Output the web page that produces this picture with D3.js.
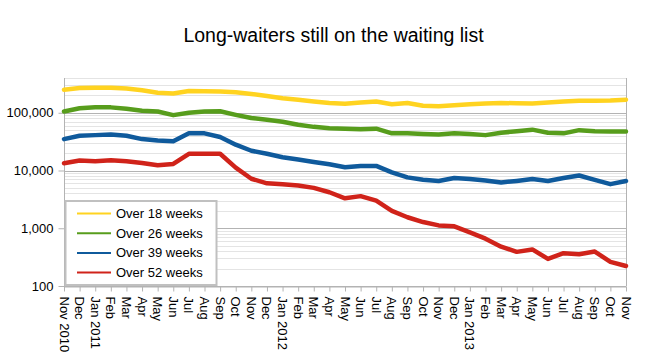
<!DOCTYPE html>
<html>
<head>
<meta charset="utf-8">
<script src="https://cdn.jsdelivr.net/npm/d3@7"></script>
<style>
  body { margin: 0; background: #fff; }
  text { font-family: "Liberation Sans", Arial, sans-serif; fill: #000; }
</style>
</head>
<body>
<svg width="646" height="358"></svg>
<script>
var width = 646,
    height = 358;

var months = ["Nov 2010", "Dec", "Jan 2011", "Feb", "Mar", "Apr", "May", "Jun", "Jul", "Aug", "Sep", "Oct", "Nov", "Dec",
    "Jan 2012", "Feb", "Mar", "Apr", "May", "Jun", "Jul", "Aug", "Sep", "Oct", "Nov", "Dec",
    "Jan 2013", "Feb", "Mar", "Apr", "May", "Jun", "Jul", "Aug", "Sep", "Oct", "Nov"];

var seriesNames = ["Over 18 weeks", "Over 26 weeks", "Over 39 weeks", "Over 52 weeks"];

var over18 = [250000, 268000, 270000, 270000, 262000, 245000, 222000, 216000, 238000, 235000, 233000, 226000, 212000,
    195000, 178000, 168000, 157000, 148000, 143000, 150000, 157000, 140000, 148000, 132000, 130000, 135000, 140000,
    145000, 148000, 146000, 145000, 150000, 157000, 162000, 162000, 163000, 168000];
var over26 = [105000, 120000, 125000, 124000, 117000, 108000, 105000, 91000, 100000, 105000, 106000, 92000, 81000,
    76000, 70000, 62000, 57000, 54000, 53000, 52000, 53000, 44000, 44000, 43000, 42000, 44000, 43000,
    41000, 45000, 48000, 51000, 45000, 44000, 50000, 48000, 47500, 47500];
var over39 = [35000, 40000, 41000, 42000, 40000, 35000, 33000, 32000, 44000, 44000, 38000, 28000, 22000,
    19500, 17000, 15500, 14000, 12800, 11400, 12000, 12000, 9300, 7600, 6900, 6600, 7400, 7100,
    6700, 6200, 6600, 7100, 6600, 7400, 8200, 6900, 5800, 6600];
var over52 = [13400, 14900, 14500, 15000, 14500, 13500, 12300, 13000, 19500, 19500, 19500, 11200, 7200,
    6000, 5800, 5500, 5000, 4200, 3300, 3600, 3000, 2000, 1550, 1280, 1120, 1080, 850,
    660, 480, 390, 430, 295, 370, 355, 395, 262, 222];

var yTicks = [100, 1000, 10000, 100000];
var colors = ["#ffd320", "#579d1c", "#0f5a9c", "#d0231a"];

var svg = d3.select("svg");

var x = d3.scaleLinear().domain([0, months.length - 1]).range([64, 626]);
var y = d3.scaleLog().domain([100, 400000]).range([286, 78]);

// title
svg.append("text")
    .attr("x", 333.5)
    .attr("y", 42)
    .attr("text-anchor", "middle")
    .style("font-size", "19.5px")
    .text("Long-waiters still on the waiting list");

// minor gridlines
var minor = [];
for (var d = 100; d < 400000; d *= 10) {
    for (var k = 2; k <= 9; k++) {
        if (d * k <= 400000) minor.push(d * k);
    }
}
svg.append("g")
    .selectAll("line")
    .data(minor)
    .join("line")
    .attr("x1", 64)
    .attr("x2", 626)
    .attr("y1", function (d) { return Math.round(y(d)) + 0.5; })
    .attr("y2", function (d) { return Math.round(y(d)) + 0.5; })
    .attr("stroke", "#e4e4e4");

// major gridlines
svg.append("g")
    .selectAll("line")
    .data(yTicks)
    .join("line")
    .attr("x1", 64)
    .attr("x2", 626)
    .attr("y1", function (d) { return Math.round(y(d)) + 0.5; })
    .attr("y2", function (d) { return Math.round(y(d)) + 0.5; })
    .attr("stroke", "#b3b3b3");

// right border
svg.append("line")
    .attr("x1", 626.5).attr("x2", 626.5)
    .attr("y1", 78).attr("y2", 286)
    .attr("stroke", "#b3b3b3");

// y axis
var yAxis = svg.append("g")
    .attr("transform", "translate(64.5,0)")
    .call(d3.axisLeft(y).tickValues(yTicks).tickFormat(d3.format(",")).tickSize(6).tickPadding(5));
yAxis.select(".domain").attr("stroke", "#b3b3b3").attr("d", "M-0,78V286");
yAxis.selectAll(".tick line").attr("stroke", "#b3b3b3");
yAxis.selectAll("text").style("font-size", "13px").attr("fill", "#000");

// x axis
var xAxis = svg.append("g")
    .attr("transform", "translate(0,286.5)")
    .call(d3.axisBottom(x).tickValues(d3.range(months.length)).tickFormat(function (i) { return months[i]; }).tickSize(5).tickSizeOuter(0));
xAxis.select(".domain").attr("stroke", "#b3b3b3");
xAxis.selectAll(".tick line").attr("stroke", "#b3b3b3");
xAxis.selectAll("text")
    .style("font-size", "13px")
    .attr("fill", "#000")
    .attr("text-anchor", "start")
    .attr("dy", null)
    .attr("y", 0)
    .attr("transform", "translate(-5,10) rotate(90)");

// lines
var allSeries = [over18, over26, over39, over52];
var line = d3.line()
    .x(function (d, i) { return x(i); })
    .y(function (d) { return y(d); });

svg.append("g")
    .selectAll("path")
    .data(allSeries)
    .join("path")
    .attr("d", line)
    .attr("fill", "none")
    .attr("stroke", function (d, i) { return colors[i]; })
    .attr("stroke-width", 4.5)
    .attr("stroke-linejoin", "round")
    .attr("stroke-linecap", "round");

// legend
var legend = svg.append("g");
legend.append("rect")
    .attr("x", 65.5).attr("y", 201)
    .attr("width", 151).attr("height", 84)
    .attr("fill", "#fff")
    .attr("stroke", "#c0c0c0")
    .attr("stroke-width", 2);

var rows = legend.selectAll("g")
    .data(seriesNames)
    .join("g")
    .attr("transform", function (d, i) { return "translate(0," + (213.5 + i * 19.7) + ")"; });
rows.append("line")
    .attr("x1", 77).attr("x2", 111)
    .attr("stroke", function (d, i) { return colors[i]; })
    .attr("stroke-width", 2);
rows.append("text")
    .attr("x", 116)
    .attr("dy", "0.35em")
    .style("font-size", "13px")
    .text(function (d) { return d; });
</script>
</body>
</html>
